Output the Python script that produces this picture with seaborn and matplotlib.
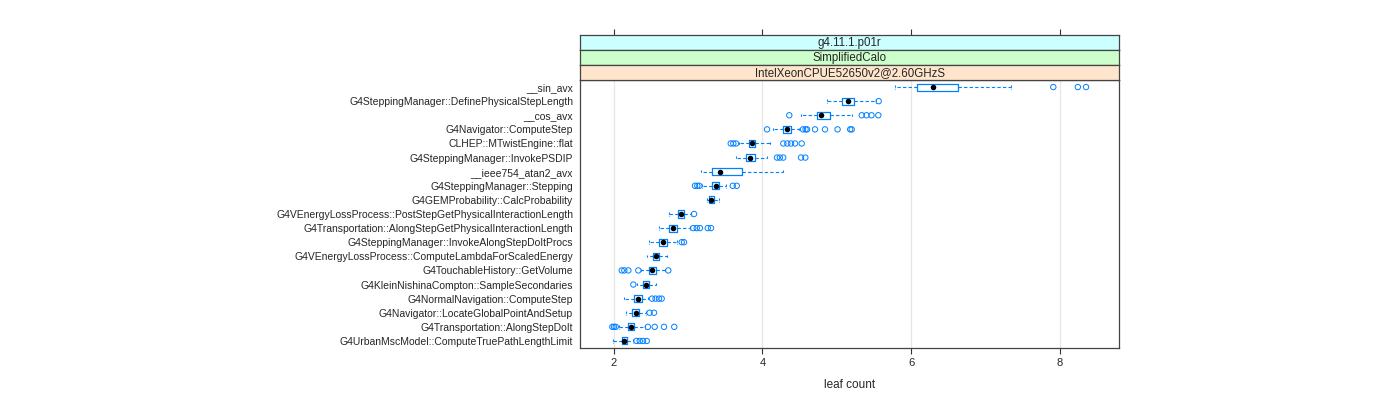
import matplotlib
matplotlib.use("Agg")
import matplotlib.pyplot as plt
import seaborn as sns
import pandas as pd

categories = [
    "__sin_avx",
    "G4SteppingManager::DefinePhysicalStepLength",
    "__cos_avx",
    "G4Navigator::ComputeStep",
    "CLHEP::MTwistEngine::flat",
    "G4SteppingManager::InvokePSDIP",
    "__ieee754_atan2_avx",
    "G4SteppingManager::Stepping",
    "G4GEMProbability::CalcProbability",
    "G4VEnergyLossProcess::PostStepGetPhysicalInteractionLength",
    "G4Transportation::AlongStepGetPhysicalInteractionLength",
    "G4SteppingManager::InvokeAlongStepDoItProcs",
    "G4VEnergyLossProcess::ComputeLambdaForScaledEnergy",
    "G4TouchableHistory::GetVolume",
    "G4KleinNishinaCompton::SampleSecondaries",
    "G4NormalNavigation::ComputeStep",
    "G4Navigator::LocateGlobalPointAndSetup",
    "G4Transportation::AlongStepDoIt",
    "G4UrbanMscModel::ComputeTruePathLengthLimit",
]

whisker_low = [5.78, 4.864, 4.515, 4.142, 3.690, 3.645, 3.181, 3.184, 3.255, 2.739,
               2.614, 2.480, 2.445, 2.364, 2.310, 2.144, 2.163, 2.077, 1.996]
q1 = [6.08, 5.066, 4.727, 4.277, 3.824, 3.780, 3.317, 3.329, 3.282, 2.859,
      2.745, 2.610, 2.534, 2.469, 2.399, 2.278, 2.251, 2.190, 2.109]
median = [6.29, 5.155, 4.792, 4.327, 3.864, 3.836, 3.431, 3.376, 3.309, 2.902,
          2.796, 2.657, 2.570, 2.516, 2.435, 2.332, 2.297, 2.234, 2.144]
q3 = [6.63, 5.232, 4.909, 4.380, 3.901, 3.905, 3.719, 3.421, 3.349, 2.946,
      2.852, 2.718, 2.614, 2.570, 2.478, 2.386, 2.345, 2.277, 2.184]
whisker_high = [7.34, 5.523, 5.204, 4.495, 4.102, 4.065, 4.277, 3.504, 3.421, 3.036,
                3.027, 2.852, 2.711, 2.691, 2.574, 2.466, 2.435, 2.422, 2.265]
outliers = [
    [7.91, 8.24, 8.35],
    [5.563],
    [4.361, 5.335, 5.399, 5.466, 5.558],
    [4.062, 4.546, 4.58, 4.60, 4.707, 4.841, 5.01, 5.18, 5.20],
    [3.574, 3.609, 3.645, 4.281, 4.335, 4.384, 4.438, 4.528],
    [4.196, 4.234, 4.280, 4.519, 4.577],
    [],
    [3.094, 3.125, 3.152, 3.601, 3.655],
    [],
    [3.081],
    [3.071, 3.117, 3.161, 3.265, 3.309],
    [2.915, 2.946],
    [],
    [2.109, 2.144, 2.198, 2.332, 2.735],
    [2.265],
    [2.516, 2.563, 2.610, 2.646],
    [2.483, 2.543],
    [1.983, 2.005, 2.028, 2.460, 2.552, 2.677, 2.815],
    [2.308, 2.351, 2.395, 2.445],
]
strip_labels = ["g4.11.1.p01r", "SimplifiedCalo", "IntelXeonCPUE52650v2@2.60GHzS"]
strip_colors = ["#ccffff", "#ccffcc", "#ffe5cc"]
x_ticks = [2, 4, 6, 8]
x_label = "leaf count"

sns.set_theme(style="white")
plt.rcParams["font.family"] = ["Liberation Sans", "DejaVu Sans"]

# long-format frames
box_rows = []
for c, a, b, m, d, e in zip(categories, whisker_low, q1, median, q3, whisker_high):
    for v in (a, b, m, d, e):
        box_rows.append({"cat": c, "val": v})
box_df = pd.DataFrame(box_rows)
med_df = pd.DataFrame({"cat": categories, "val": median})
out_df = pd.DataFrame([{"cat": c, "val": v} for c, vs in zip(categories, outliers) for v in vs])

BLUE = "#0080ff"
fig = plt.figure(figsize=(14, 4), dpi=100)
ax = fig.add_axes([580 / 1400, 1 - 348 / 400, 539 / 1400, 268 / 400])

for xv in x_ticks:
    ax.axvline(xv, color="#e6e6e6", lw=0.9, zorder=0)

sns.boxplot(data=box_df, x="val", y="cat", order=categories, orient="h",
            whis=(0, 100), fill=False, color=BLUE, width=0.5, linewidth=0.9,
            showfliers=False, ax=ax,
            boxprops=dict(color=BLUE, linewidth=0.9),
            whiskerprops=dict(color=BLUE, linestyle=(0, (3, 2)), linewidth=0.8),
            capprops=dict(color=BLUE, linestyle=(0, (2, 1)), linewidth=0.8),
            medianprops=dict(visible=False))
sns.scatterplot(data=out_df, x="val", y="cat", ax=ax, marker="o", s=15,
                facecolor="none", edgecolor=BLUE, linewidth=0.7, zorder=3)
sns.scatterplot(data=med_df, x="val", y="cat", ax=ax, marker="o", s=16,
                color="black", edgecolor="black", linewidth=0, zorder=4)

ax.set_xlim(1.548, 8.793)
ax.set_ylim(len(categories) - 0.5, -0.5)
ax.set_xticks(x_ticks)
ax.set_xticklabels([str(t) for t in x_ticks])
ax.set_xlabel(x_label, fontsize=8.5, labelpad=8)
ax.set_ylabel("")
ax.tick_params(axis="x", direction="out", length=4, width=0.8, color="#333333",
               labelsize=8, pad=3, bottom=True)
ax.tick_params(axis="y", length=0, labelsize=7.5, pad=5)
for s in ax.spines.values():
    s.set_color("#444444")
    s.set_linewidth(0.9)
ax.grid(False)

# strips
for i, (lab, col) in enumerate(zip(strip_labels, strip_colors)):
    top = 35 + 15 * i
    sax = fig.add_axes([580 / 1400, 1 - (top + 15) / 400, 539 / 1400, 15 / 400])
    sax.set_facecolor(col)
    sax.set_xlim(ax.get_xlim())
    sax.set_yticks([])
    sax.text(0.5, 0.45, lab, transform=sax.transAxes, ha="center", va="center",
             fontsize=8.3)
    for s in sax.spines.values():
        s.set_color("#444444")
        s.set_linewidth(0.9)
    if i == 0:
        sax.set_xticks(x_ticks)
        sax.tick_params(axis="x", top=True, bottom=False, labeltop=False,
                        labelbottom=False, direction="out", length=4, width=0.8,
                        color="#333333")
    else:
        sax.set_xticks([])

fig.savefig("out.png", dpi=100)
